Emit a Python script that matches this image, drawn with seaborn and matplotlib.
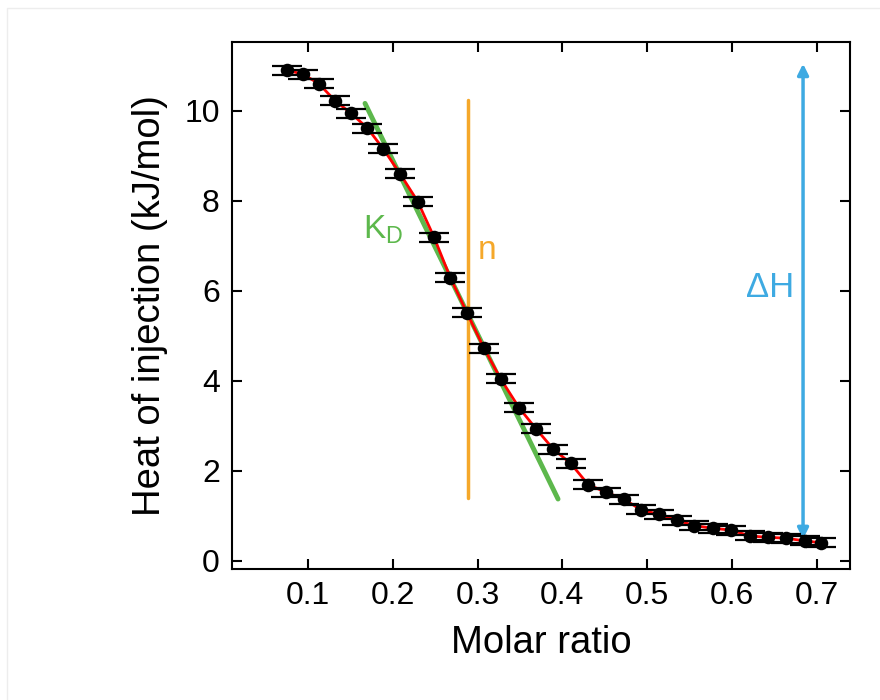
import matplotlib
matplotlib.use("Agg")
import matplotlib.pyplot as plt
from matplotlib.patches import Rectangle
import seaborn as sns

# titration data
molar_ratio = [0.0747, 0.0936, 0.1125, 0.1317, 0.1506, 0.1700, 0.1886, 0.2084,
               0.2293, 0.2485, 0.2677, 0.2874, 0.3075, 0.3272, 0.3488, 0.3689,
               0.3893, 0.4099, 0.4305, 0.4516, 0.4724, 0.4929, 0.5136, 0.5349,
               0.5557, 0.5774, 0.5990, 0.6214, 0.6423, 0.6639, 0.6863, 0.7050]
heat = [10.90, 10.81, 10.60, 10.22, 9.94, 9.61, 9.15, 8.60,
        7.98, 7.19, 6.29, 5.51, 4.72, 4.04, 3.40, 2.93,
        2.48, 2.16, 1.69, 1.52, 1.37, 1.13, 1.03, 0.90,
        0.78, 0.72, 0.68, 0.55, 0.52, 0.50, 0.44, 0.40]
heat_err = [0.1] * len(heat)

# annotation lines
kd_x = [0.1671, 0.3949]
kd_y = [10.16, 1.37]
n_x = [0.2887, 0.2887]
n_y = [10.24, 1.39]
dh_x = 0.684
dh_y = [0.48, 11.04]

x_ticks = [0.1, 0.2, 0.3, 0.4, 0.5, 0.6, 0.7]
y_ticks = [0, 2, 4, 6, 8, 10]

sns.set_theme(style="ticks")
plt.rcParams['font.family'] = ['Liberation Sans', 'DejaVu Sans']
plt.rcParams['mathtext.default'] = 'regular'
plt.rcParams['text.color'] = 'black'
plt.rcParams['axes.labelcolor'] = 'black'

GREEN = '#5db84c'
ORANGE = '#f5a82a'
BLUE = '#3eaae2'

fig = plt.figure(figsize=(8.8, 7), dpi=100)
fig.patches.append(Rectangle((7 / 880, -0.1), 1.2, 1 - 8 / 700 + 0.1,
                             transform=fig.transFigure, fill=False,
                             edgecolor='#ededed', lw=1))
ax = fig.add_axes([232.3 / 880, 1 - 568.5 / 700, (850 - 232.3) / 880, (568.5 - 41.7) / 700])

# tangent (K_D) and stoichiometry (n) lines
sns.lineplot(x=kd_x, y=kd_y, ax=ax, color=GREEN, lw=3.5, zorder=2,
             estimator=None, sort=False)
sns.lineplot(x=n_x, y=n_y, ax=ax, color=ORANGE, lw=2.5, zorder=2,
             estimator=None, sort=False)

# fit curve
sns.lineplot(x=molar_ratio, y=heat, ax=ax, color='red', lw=2, zorder=3,
             estimator=None)

# error bars with wide caps
ax.errorbar(molar_ratio, heat, yerr=heat_err, fmt='none', ecolor='black',
            elinewidth=1.5, capsize=11, capthick=1.6, zorder=4)
sns.scatterplot(x=molar_ratio, y=heat, ax=ax, color='black', s=95,
                edgecolor='black', linewidth=0, zorder=5)

# ΔH arrow
ax.annotate('', xy=(dh_x, dh_y[1]), xytext=(dh_x, dh_y[0]),
            arrowprops=dict(arrowstyle='<|-|>', color=BLUE, lw=2.5,
                            mutation_scale=16, shrinkA=0, shrinkB=0), zorder=3)

ax.text(0.1885, 7.35, '$K_D$', color=GREEN, fontsize=24, ha='center', va='center')
ax.text(0.3115, 6.9, 'n', color=ORANGE, fontsize=24, ha='center', va='center')
ax.text(0.6455, 6.07, '\u0394H', color=BLUE, fontsize=25, ha='center', va='center')

ax.set_xlim(0.0105, 0.7394)
ax.set_ylim(-0.173, 11.53)
ax.set_xticks(x_ticks)
ax.set_yticks(y_ticks)
ax.set_xticklabels([f"{t:.1f}" for t in x_ticks])
ax.tick_params(direction='in', length=7, width=1.5, labelsize=23, pad=9,
               top=True, right=True, colors='black', labelcolor='black')
for side in ax.spines.values():
    side.set_linewidth(1.5)
    side.set_color('black')

ax.set_xlabel('Molar ratio', fontsize=27.5, labelpad=10)
ax.set_ylabel('Heat of injection (kJ/mol)', fontsize=27.5, labelpad=12)
ax.grid(False)

fig.savefig('out.png', dpi=100)
